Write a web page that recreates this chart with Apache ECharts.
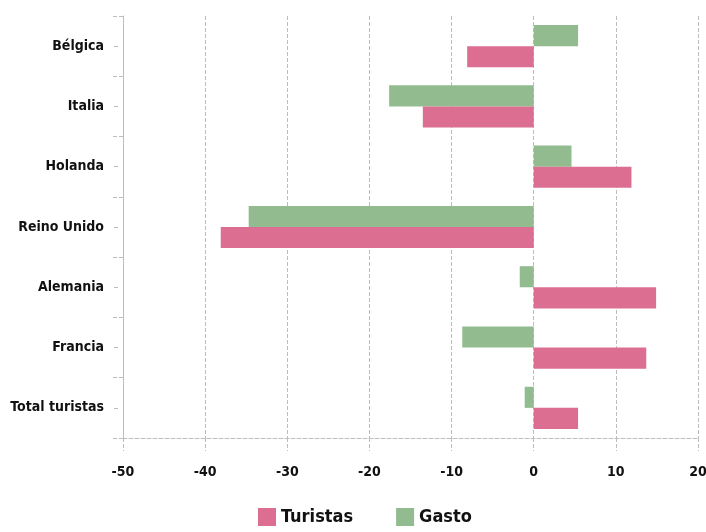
<!DOCTYPE html>
<html><head><meta charset="utf-8">
<script src="https://cdn.jsdelivr.net/npm/echarts@6/dist/echarts.min.js"></script>
<style>html,body{margin:0;padding:0;background:#fff}#c{width:706px;height:532px}</style>
</head><body><div id="c"></div>
<script>
const categories = ['Total turistas', 'Francia', 'Alemania', 'Reino Unido', 'Holanda', 'Italia', 'Bélgica'];
const turistas = [5.4, 13.7, 14.9, -38.1, 11.9, -13.5, -8.1];
const gasto = [-1.1, -8.7, -1.7, -34.7, 4.6, -17.6, 5.4];
const xTicks = [-50, -40, -30, -20, -10, 0, 10, 20];

const FONT = "'Liberation Sans Narrow', 'DejaVu Sans Condensed', sans-serif";
const grey = '#bdbdbd';
const chart = echarts.init(document.getElementById('c'), null, {renderer: 'canvas'});
chart.setOption({
  animation: false,
  backgroundColor: '#fff',
  textStyle: {fontFamily: FONT},
  grid: {left: 123, right: 8, top: 16, bottom: 94, containLabel: false, outerBoundsMode: 'none'},
  legend: {
    bottom: 1, left: 253, itemWidth: 18, itemHeight: 18, itemGap: 43,
    icon: 'rect',
    textStyle: {fontFamily: FONT, fontWeight: 'bold', fontSize: 18, color: '#111'},
    data: ['Turistas', 'Gasto']
  },
  xAxis: {
    type: 'value', min: xTicks[0], max: xTicks[xTicks.length - 1], interval: 10,
    axisLine: {show: true, lineStyle: {color: grey, type: 'dashed'}},
    axisTick: {show: true, length: 13, lineStyle: {color: grey, type: 'dashed'}},
    splitLine: {show: true, lineStyle: {color: grey, type: 'dashed'}},
    axisLabel: {margin: 27, fontFamily: FONT, fontWeight: 'bold', fontSize: 14, color: '#111'}
  },
  yAxis: [{
    type: 'category', data: categories,
    axisLine: {show: true, onZero: false, lineStyle: {color: grey, type: 'dashed'}},
    axisTick: {show: true, length: 12, lineStyle: {color: grey, type: 'dashed'}},
    axisLabel: {margin: 19, fontFamily: FONT, fontWeight: 'bold', fontSize: 14, color: '#111'}
  }, {
    type: 'category', data: categories, position: 'left',
    axisLine: {show: false, onZero: false},
    axisTick: {show: true, alignWithLabel: true, length: 9, lineStyle: {color: grey, type: [0, 5, 4]}},
    axisLabel: {show: false}
  }],
  series: [{
    name: 'Gasto', type: 'bar', data: gasto, yAxisIndex: 0,
    barGap: '0%', barCategoryGap: '30%',
    itemStyle: {color: '#92bc8f'}
  }, {
    name: 'Turistas', type: 'bar', data: turistas, yAxisIndex: 0,
    barGap: '0%', barCategoryGap: '30%',
    itemStyle: {color: '#dc6e91'}
  }]
});
</script></body></html>
